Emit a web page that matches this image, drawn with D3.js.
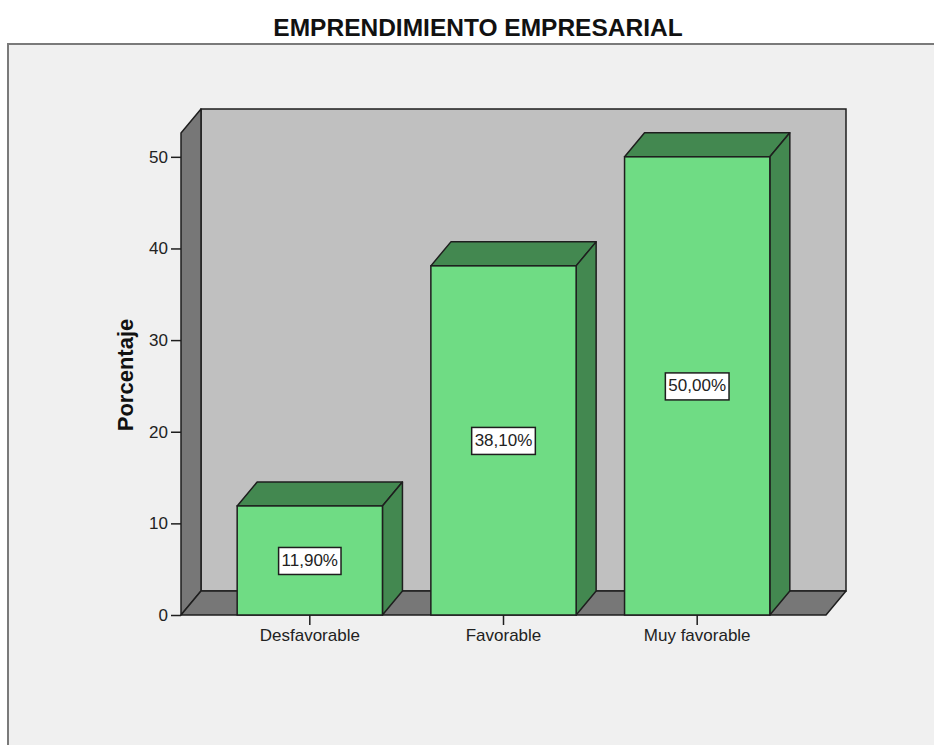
<!DOCTYPE html>
<html>
<head>
<meta charset="utf-8">
<script src="https://cdn.jsdelivr.net/npm/d3@7.9.0/dist/d3.min.js"></script>
<style>
  body { margin: 0; background: #fff; }
  svg { display: block; font-family: "Liberation Sans", Arial, sans-serif; }
</style>
</head>
<body>
<svg id="chart" width="934" height="745"></svg>
<script>
// datos del grafico
const categories = ['Desfavorable', 'Favorable', 'Muy favorable'];
const percents = [11.9, 38.1, 50.0];
const valueLabels = ['11,90%', '38,10%', '50,00%'];
const yTicks = [0, 10, 20, 30, 40, 50];

const svg = d3.select('#chart');

// marco exterior
svg.append('rect')
  .attr('x', 8).attr('y', 44).attr('width', 940).attr('height', 720)
  .attr('fill', '#f0f0f0').attr('stroke', '#7a7a7a').attr('stroke-width', 2);

svg.append('text')
  .attr('x', 478).attr('y', 36)
  .attr('text-anchor', 'middle')
  .attr('font-size', 24.5).attr('font-weight', 'bold')
  .attr('fill', '#111')
  .text('EMPRENDIMIENTO EMPRESARIAL');

// profundidad 3D
const dx = 20, dy = 24;
const plotLeft = 181, plotRight = 826, plotBottom = 615, plotTop = 133;

let y = d3.scaleLinear().domain([0, 52.6]).range([plotBottom, plotTop]);
let x = d3.scaleBand().domain(categories).range([plotLeft, plotRight])
  .paddingInner(0.25).paddingOuter(0.29);

const g = svg.append('g');
const line = '#1e1e1e';

// pared del fondo
g.append('rect')
  .attr('x', plotLeft + dx).attr('y', plotTop - dy)
  .attr('width', plotRight - plotLeft).attr('height', plotBottom - plotTop)
  .attr('fill', '#c0c0c0').attr('stroke', line).attr('stroke-width', 1.5);

// pared izquierda
g.append('path')
  .attr('d', `M${plotLeft},${plotTop} L${plotLeft + dx},${plotTop - dy} L${plotLeft + dx},${plotBottom - dy} L${plotLeft},${plotBottom} Z`)
  .attr('fill', '#777777').attr('stroke', line).attr('stroke-width', 1.5)
  .attr('stroke-linejoin', 'round');

// suelo
g.append('path')
  .attr('d', `M${plotLeft},${plotBottom} L${plotLeft + dx},${plotBottom - dy} L${plotRight + dx},${plotBottom - dy} L${plotRight},${plotBottom} Z`)
  .attr('fill', '#777777').attr('stroke', line).attr('stroke-width', 1.5)
  .attr('stroke-linejoin', 'round');

// ejes
let yAxis = d3.axisLeft(y).tickValues(yTicks).tickSize(10).tickPadding(3).tickSizeOuter(0);
let ya = svg.append('g').attr('transform', `translate(${plotLeft},0)`).call(yAxis);
ya.select('.domain').remove();
ya.selectAll('line').attr('stroke', line).attr('stroke-width', 1.5);
ya.selectAll('text').attr('font-size', 17).attr('fill', '#222');
ya.attr('font-family', null);

let xAxis = d3.axisBottom(x).tickSize(10).tickPadding(4).tickSizeOuter(0);
let xa = svg.append('g').attr('transform', `translate(0,${plotBottom})`).call(xAxis);
xa.select('.domain').remove();
xa.selectAll('line').attr('stroke', line).attr('stroke-width', 1.5);
xa.selectAll('text').attr('font-size', 17).attr('fill', '#222');
xa.attr('font-family', null);

svg.append('text')
  .attr('transform', `translate(133,375) rotate(-90)`)
  .attr('text-anchor', 'middle')
  .attr('font-size', 22).attr('font-weight', 'bold')
  .attr('fill', '#111')
  .text('Porcentaje');

// barras
const bars = g.selectAll('.bar').data(percents).join('g').attr('class', 'bar');
bars.each(function (d, i) {
  let b = d3.select(this);
  let x0 = x(categories[i]), x1 = x0 + x.bandwidth();
  let yt = y(d), yb = y(0);
  // cara superior
  b.append('path')
    .attr('d', `M${x0},${yt} L${x0 + dx},${yt - dy} L${x1 + dx},${yt - dy} L${x1},${yt} Z`)
    .attr('fill', '#438850').attr('stroke', line).attr('stroke-width', 1.5).attr('stroke-linejoin', 'round');
  // cara lateral
  b.append('path')
    .attr('d', `M${x1},${yt} L${x1 + dx},${yt - dy} L${x1 + dx},${yb - dy} L${x1},${yb} Z`)
    .attr('fill', '#438850').attr('stroke', line).attr('stroke-width', 1.5).attr('stroke-linejoin', 'round');
  // frente
  b.append('rect')
    .attr('x', x0).attr('y', yt).attr('width', x1 - x0).attr('height', yb - yt)
    .attr('fill', '#6fdc84').attr('stroke', line).attr('stroke-width', 1.5);
});

// etiquetas de valor
percents.forEach((d, i) => {
  let cx = x(categories[i]) + x.bandwidth() / 2;
  let cy = y(d / 2);
  let lg = svg.append('g');
  let t = lg.append('text')
    .attr('x', cx).attr('y', cy)
    .attr('text-anchor', 'middle').attr('dominant-baseline', 'central')
    .attr('font-size', 17).attr('fill', '#222')
    .text(valueLabels[i]);
  let w = t.node().getComputedTextLength() + 6;
  lg.insert('rect', 'text')
    .attr('x', cx - w / 2).attr('y', cy - 13).attr('width', w).attr('height', 27)
    .attr('fill', '#fff').attr('stroke', line).attr('stroke-width', 1.5);
});
</script>
</body>
</html>
